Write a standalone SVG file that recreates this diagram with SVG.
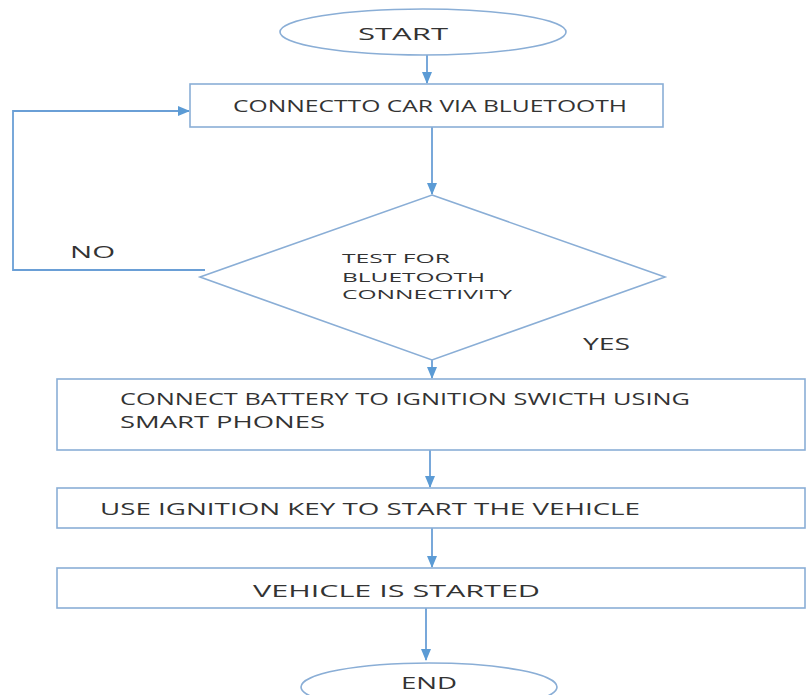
<svg xmlns="http://www.w3.org/2000/svg" width="809" height="695" viewBox="0 0 809 695">
<defs>
<marker id="arr" markerWidth="12" markerHeight="10" refX="11" refY="5" orient="auto" markerUnits="userSpaceOnUse">
<path d="M0,0 L12,5 L0,10 Z" fill="#5b9bd5"/>
</marker>
<style>
.shape{fill:#ffffff;stroke:#8aaed6;stroke-width:1.6}
.conn{fill:none;stroke:#6a9fd6;stroke-width:1.8}
.t{font-family:"Open Sans","Liberation Sans",sans-serif;fill:#333333;font-size:16px}
.ts{font-family:"Open Sans","Liberation Sans",sans-serif;fill:#333333;font-size:13.5px}
</style>
</defs>
<rect width="809" height="695" fill="#ffffff"/>
<g id="connectors">
<line class="conn" x1="427" y1="55" x2="427" y2="83" marker-end="url(#arr)"/>
<line class="conn" x1="432" y1="127" x2="432" y2="194" marker-end="url(#arr)"/>
<polyline class="conn" points="205,270 13,270 13,111 189,111" marker-end="url(#arr)"/>
<line class="conn" x1="432" y1="360" x2="432" y2="378" marker-end="url(#arr)"/>
<line class="conn" x1="430" y1="450" x2="430" y2="487" marker-end="url(#arr)"/>
<line class="conn" x1="432" y1="528" x2="432" y2="567" marker-end="url(#arr)"/>
<line class="conn" x1="426" y1="608" x2="426" y2="660" marker-end="url(#arr)"/>
</g>
<g id="start">
<ellipse class="shape" cx="423" cy="32" rx="143" ry="23"/>
<text class="t" x="358" y="40" textLength="90" lengthAdjust="spacingAndGlyphs">START</text>
</g>
<g id="connect-bt">
<rect class="shape" x="190" y="84" width="473" height="43"/>
<text class="t" x="233" y="112" textLength="394" lengthAdjust="spacingAndGlyphs">CONNECTTO CAR VIA BLUETOOTH</text>
</g>
<g id="test-bt">
<polygon class="shape" points="432,195 665,277 432,360 200,277"/>
<text class="ts" x="342" y="263" textLength="108" lengthAdjust="spacingAndGlyphs">TEST FOR</text>
<text class="ts" x="342" y="282" textLength="143" lengthAdjust="spacingAndGlyphs">BLUETOOTH</text>
<text class="ts" x="342" y="299" textLength="170" lengthAdjust="spacingAndGlyphs">CONNECTIVITY</text>
</g>
<g id="label-no">
<text class="t" x="70" y="258" textLength="45" lengthAdjust="spacingAndGlyphs">NO</text>
</g>
<g id="label-yes">
<text class="t" x="583" y="350" textLength="47" lengthAdjust="spacingAndGlyphs">YES</text>
</g>
<g id="connect-battery">
<rect class="shape" x="57" y="379" width="748" height="71"/>
<text class="t" x="120" y="405" textLength="570" lengthAdjust="spacingAndGlyphs">CONNECT BATTERY TO IGNITION SWICTH USING</text>
<text class="t" x="120" y="428" textLength="205" lengthAdjust="spacingAndGlyphs">SMART PHONES</text>
</g>
<g id="use-key">
<rect class="shape" x="57" y="488" width="748" height="40"/>
<text class="t" x="100" y="515" textLength="540" lengthAdjust="spacingAndGlyphs">USE IGNITION KEY TO START THE VEHICLE</text>
</g>
<g id="started">
<rect class="shape" x="57" y="568" width="748" height="40"/>
<text class="t" x="253" y="597" textLength="287" lengthAdjust="spacingAndGlyphs">VEHICLE IS STARTED</text>
</g>
<g id="end">
<ellipse class="shape" cx="429" cy="687" rx="128" ry="24"/>
<text class="t" x="401" y="689" textLength="56" lengthAdjust="spacingAndGlyphs">END</text>
</g>
</svg>
